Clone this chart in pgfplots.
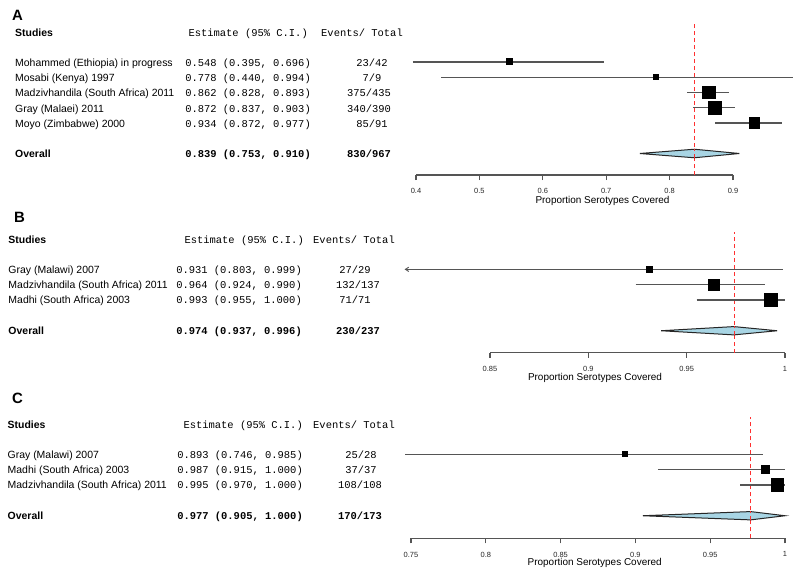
\documentclass[border=0pt]{standalone}
\usepackage{fontspec}
\setmainfont{Liberation Sans}
\newfontfamily\mono{Liberation Mono}
\usepackage{pgfplots}
\pgfplotsset{compat=1.18}

\definecolor{cigray}{HTML}{555555}
\definecolor{diamfill}{HTML}{A8D5E4}
\definecolor{refred}{HTML}{FF3030}

\pgfplotsset{
  forest/.style={scale only axis, clip=false, axis y line=none, axis x line*=bottom,
    x axis line style={draw=cigray, line width=1.1bp},
    tick align=outside, major tick length=5bp,
    xtick style={draw=cigray, line width=1.1bp},
    xticklabel style={font=\fontsize{7.5}{9}\selectfont, yshift=-5bp, text=black!85},
    /pgf/number format/.cd, fixed, precision=2, assume math mode=true},
  ci/.style={draw=cigray, line width=1.2bp, mark=none},
  sq/.style={only marks, mark=square*, black, mark options={line width=0pt}},
  diam/.style={draw=black!85, fill=diamfill, line width=1bp, mark=none},
  refl/.style={draw=refred, color=refred, line width=1.1bp, dash pattern=on 4bp off 3bp, mark=none}
}

\newcommand\tx[4]{\node[anchor=#1,inner sep=0pt,text height=7.6bp,text depth=0bp,font=\fontsize{10.5}{12}\selectfont] at (#2bp,-#3bp) {#4};}
\newcommand\mx[4]{\node[anchor=#1,inner sep=0pt,text height=7.6bp,text depth=0bp,font=\fontsize{10.5}{12}\selectfont\mono] at (#2bp,-#3bp) {#4};}
\newcommand\bx[4]{\node[anchor=#1,inner sep=0pt,text height=7.6bp,text depth=0bp,font=\fontsize{10.5}{12}\selectfont\bfseries] at (#2bp,-#3bp) {#4};}
\newcommand\bmx[4]{\node[anchor=#1,inner sep=0pt,text height=7.6bp,text depth=0bp,font=\fontsize{10.5}{12}\selectfont\mono\bfseries] at (#2bp,-#3bp) {#4};}
\newcommand\panel[3]{\node[anchor=west,inner sep=0pt,text height=10.5bp,text depth=0bp,font=\fontsize{15}{17}\selectfont\bfseries] at (#1bp,-#2bp) {#3};}
\newcommand\xl[3]{\node[anchor=center,inner sep=0pt,font=\fontsize{10}{12}\selectfont] at (#1bp,-#2bp) {#3};}

\begin{document}
\begin{tikzpicture}
\path[use as bounding box, fill=white] (0bp,0bp) rectangle (800bp,-576bp);

% ---------------- Panel A ----------------
\panel{12}{15.3}{A}
\bx{west}{15}{32.7}{Studies}
\mx{east}{308}{32.7}{Estimate (95\% C.I.)}
\mx{west}{321}{32.7}{Events/ Total}
\tx{west}{15}{62.3}{Mohammed (Ethiopia) in progress}
\tx{west}{15}{77.7}{Mosabi (Kenya) 1997}
\tx{west}{15}{93}{Madzivhandila (South Africa) 2011}
\tx{west}{15}{108.3}{Gray (Malaei) 2011}
\tx{west}{15}{123.7}{Moyo (Zimbabwe) 2000}
\bx{west}{15}{154}{Overall}
\mx{east}{311}{62.3}{0.548 (0.395, 0.696)}
\mx{east}{311}{77.7}{0.778 (0.440, 0.994)}
\mx{east}{311}{93}{0.862 (0.828, 0.893)}
\mx{east}{311}{108.3}{0.872 (0.837, 0.903)}
\mx{east}{311}{123.7}{0.934 (0.872, 0.977)}
\bmx{east}{311}{154}{0.839 (0.753, 0.910)}
\mx{center}{372}{62.3}{23/42}
\mx{center}{372}{77.7}{7/9}
\mx{center}{369}{93}{375/435}
\mx{center}{369}{108.3}{340/390}
\mx{center}{372}{123.7}{85/91}
\bmx{center}{369}{154}{830/967}

\begin{axis}[forest, at={(416bp,-175bp)}, anchor=south west,
  width=317bp, height=151bp, xmin=0.4, xmax=0.9, ymin=-2.41, ymax=7.49,
  xtick={0.4,0.5,0.6,0.7,0.8,0.9}]
\addplot[refl] coordinates {(0.839,-2.41) (0.839,7.49)};
\addplot[ci] coordinates {(0.395,5) (0.696,5)};
\addplot[ci] coordinates {(0.440,4) (0.994,4)};
\addplot[ci] coordinates {(0.828,3) (0.893,3)};
\addplot[ci] coordinates {(0.837,2) (0.903,2)};
\addplot[ci] coordinates {(0.872,1) (0.977,1)};
\addplot[sq, mark size=3] coordinates {(0.548,5)};
\addplot[sq, mark size=2.4] coordinates {(0.778,4)};
\addplot[sq, mark size=6.4] coordinates {(0.862,3)};
\addplot[sq, mark size=6.4] coordinates {(0.872,2)};
\addplot[sq, mark size=5.4] coordinates {(0.934,1)};
\addplot[diam] coordinates {(0.753,-1) (0.839,-0.72) (0.910,-1) (0.839,-1.28)} -- cycle;
\addplot[refl] coordinates {(0.839,-1.3) (0.839,-0.7)};
\end{axis}
\xl{602.5}{201}{Proportion Serotypes Covered}

% ---------------- Panel B ----------------
\panel{14}{217.5}{B}
\bx{west}{8.3}{240}{Studies}
\mx{east}{304}{240}{Estimate (95\% C.I.)}
\mx{west}{313}{240}{Events/ Total}
\tx{west}{8.3}{270}{Gray (Malawi) 2007}
\tx{west}{8.3}{285}{Madzivhandila (South Africa) 2011}
\tx{west}{8.3}{300}{Madhi (South Africa) 2003}
\bx{west}{8.3}{330.5}{Overall}
\mx{east}{302}{270}{0.931 (0.803, 0.999)}
\mx{east}{302}{285}{0.964 (0.924, 0.990)}
\mx{east}{302}{300}{0.993 (0.955, 1.000)}
\bmx{east}{302}{330.5}{0.974 (0.937, 0.996)}
\mx{center}{355}{270}{27/29}
\mx{center}{358}{285}{132/137}
\mx{center}{355}{300}{71/71}
\bmx{center}{358}{330.5}{230/237}

\begin{axis}[forest, at={(490bp,-352.7bp)}, anchor=south west,
  width=295bp, height=121bp, xmin=0.85, xmax=1, ymin=-2.43, ymax=5.45,
  xtick={0.85,0.9,0.95,1}]
\addplot[refl] coordinates {(0.9743,-2.43) (0.9743,5.45)};
\addplot[ci] coordinates {(0.807,3) (0.999,3)};
\addplot[ci, line width=0.9bp] coordinates {(0.8087,3.14) (0.807,3) (0.8087,2.86)};
\addplot[ci] coordinates {(0.924,2) (0.990,2)};
\addplot[ci] coordinates {(0.955,1) (1.000,1)};
\addplot[sq, mark size=3.3] coordinates {(0.931,3)};
\addplot[sq, mark size=5.5] coordinates {(0.964,2)};
\addplot[sq, mark size=6.7] coordinates {(0.993,1)};
\addplot[diam] coordinates {(0.937,-1) (0.974,-0.73) (0.996,-1) (0.974,-1.27)} -- cycle;
\addplot[refl] coordinates {(0.9743,-1.3) (0.9743,-0.7)};
\end{axis}
\xl{595}{378.3}{Proportion Serotypes Covered}

% ---------------- Panel C ----------------
\panel{12}{398}{C}
\bx{west}{7.5}{424.3}{Studies}
\mx{east}{303}{424.3}{Estimate (95\% C.I.)}
\mx{west}{313}{424.3}{Events/ Total}
\tx{west}{7.5}{455}{Gray (Malawi) 2007}
\tx{west}{7.5}{469.5}{Madhi (South Africa) 2003}
\tx{west}{7.5}{485}{Madzivhandila (South Africa) 2011}
\bx{west}{7.5}{515.5}{Overall}
\mx{east}{303}{455}{0.893 (0.746, 0.985)}
\mx{east}{303}{469.5}{0.987 (0.915, 1.000)}
\mx{east}{303}{485}{0.995 (0.970, 1.000)}
\bmx{east}{303}{515.5}{0.977 (0.905, 1.000)}
\mx{center}{361}{455}{25/28}
\mx{center}{361}{469.5}{37/37}
\mx{center}{360}{485}{108/108}
\bmx{center}{360}{515.5}{170/173}

\begin{axis}[forest, at={(411bp,-538.3bp)}, anchor=south west,
  width=374bp, height=121.6bp, xmin=0.75, xmax=1, ymin=-2.47, ymax=5.45,
  xtick={0.75,0.8,0.85,0.9,0.95,1}]
\addplot[refl] coordinates {(0.977,-2.47) (0.977,5.45)};
\addplot[ci] coordinates {(0.746,3) (0.985,3)};
\addplot[ci] coordinates {(0.915,2) (1.000,2)};
\addplot[ci] coordinates {(0.970,1) (1.000,1)};
\addplot[sq, mark size=2.5] coordinates {(0.893,3)};
\addplot[sq, mark size=3.8] coordinates {(0.987,2)};
\addplot[sq, mark size=6.3] coordinates {(0.995,1)};
\addplot[diam] coordinates {(0.905,-1) (0.977,-0.73) (1.000,-1) (0.977,-1.27)} -- cycle;
\addplot[refl] coordinates {(0.977,-1.3) (0.977,-0.7)};
\end{axis}
\xl{594.7}{562.7}{Proportion Serotypes Covered}
\end{tikzpicture}
\end{document}
